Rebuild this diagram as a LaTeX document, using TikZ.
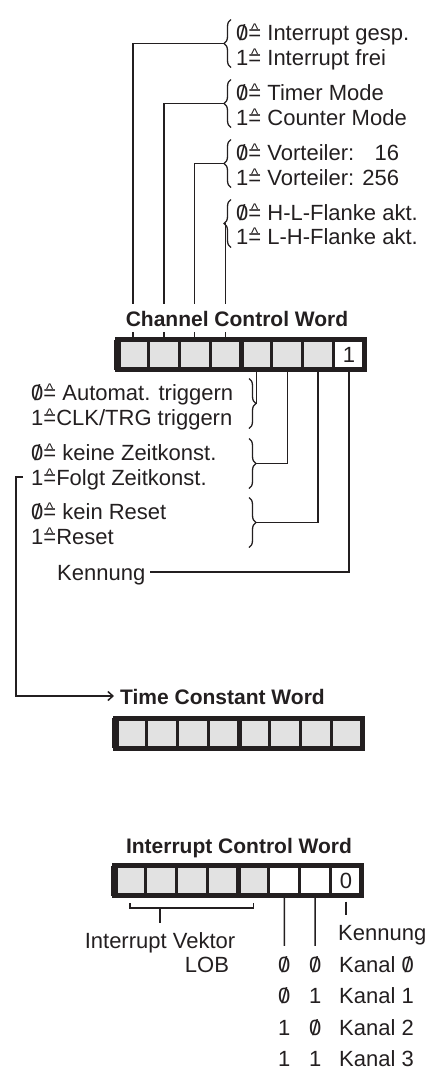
\documentclass[tikz,border=0pt]{standalone}
\usepackage{fontspec}
\setmainfont{Liberation Sans}
\usepackage{graphicx}
\usepackage{xcolor}
\usetikzlibrary{arrows.meta,calc,decorations.pathreplacing}
\definecolor{ink}{HTML}{231F20}
\definecolor{cellgray}{HTML}{E2E2E2}
\newcommand{\nul}{\ooalign{0\cr\hidewidth/\hidewidth\cr}}
\newcommand{\entspr}{\ooalign{=\cr\hidewidth\raisebox{.25em}{\scalebox{.7}{\textasciicircum}}\hidewidth\cr}}
\tikzset{
  txt/.style={font=\fontsize{22}{26}\selectfont, text=ink, inner sep=0pt, text height=16pt, text depth=0pt},
  ttl/.style={txt, font=\fontsize{21}{25}\selectfont\bfseries},
  wire/.style={draw=ink, line width=1.5pt},
  brc/.style={draw=ink, line width=1.3pt, decorate, decoration={brace, amplitude=7pt}},
  cell/.style={txt, draw=ink, line width=3pt, fill=cellgray, minimum width=30.875pt, minimum height=30pt, outer sep=0pt},
  frame/.style={draw=ink, line width=5pt},
}

\begin{document}
\begin{tikzpicture}[x=1pt, y=-1pt]
\useasboundingbox (0,0) rectangle (428,1069);

% Channel Control Word
\foreach \i in {1,...,7} \node[cell] (c\i) at ({117.5+30.875*(\i-0.5)},354.5) {};
\node[cell, fill=white] (c8) at ({117.5+30.875*7.5},354.5) {1};
\draw[frame] (c1.north west) rectangle (c8.south east);
\draw[frame] (c4.north east) -- (c4.south east);
\draw[frame, line width=7pt] (c1.north west) -- (c1.south west);

% upper bits
\node[txt, anchor=west] (igs) at (236,32) {\nul\entspr\ Interrupt gesp.};
\node[txt, anchor=west] (ifr) at (236,57) {1\entspr\ Interrupt frei};
\node[txt, anchor=west] (tmo) at (236,92) {\nul\entspr\ Timer Mode};
\node[txt, anchor=west] (cmo) at (236,117) {1\entspr\ Counter Mode};
\node[txt, anchor=west] (v16) at (236,152) {\nul\entspr\ Vorteiler: \hphantom{2}16};
\node[txt, anchor=west] (v256) at (236,177) {1\entspr\ Vorteiler: 256};
\node[txt, anchor=west] (hlf) at (236,212) {\nul\entspr\ H-L-Flanke akt.};
\node[txt, anchor=west] (lhf) at (236,236) {1\entspr\ L-H-Flanke akt.};
\foreach \k in {1,...,4} {
  \draw[brc] (231,{67.5+60*(\k-1)}) -- (231,{19.5+60*(\k-1)});
  \coordinate (b\k) at (224,{43.5+60*(\k-1)});
  \draw[wire] (c\k.north) |- (b\k);
}
\node[ttl, fill=white, inner xsep=2pt, inner ysep=6pt] (ccw) at (237,318) {Channel Control Word};

% lower bits
\node[txt, anchor=west] (aut) at (31,392) {\nul\entspr\ Automat. triggern};
\node[txt, anchor=west] (clk) at (31,417) {1\entspr CLK/TRG triggern};
\node[txt, anchor=west] (kzk) at (31,452) {\nul\entspr\ keine Zeitkonst.};
\node[txt, anchor=west] (fzk) at (31,477) {1\entspr Folgt Zeitkonst.};
\node[txt, anchor=west] (kre) at (31,511) {\nul\entspr\ kein Reset};
\node[txt, anchor=west] (res) at (31,536) {1\entspr Reset};
\node[txt, anchor=west] (ken) at (57,572) {Kennung};
\foreach \m/\n/\y in {5/a/403.5, 6/b/463.5, 7/c/522.5} {
  \draw[brc] (249,{\y-25}) -- (249,{\y+25});
  \coordinate (b\n) at (256,\y);
  \draw[wire] (c\m.south) |- (b\n);
}
\draw[wire] (c8.south) |- ([xshift=5pt]ken.east);

% Time Constant Word
\node[ttl, anchor=west] (tcw) at (120,696) {Time Constant Word};
\foreach \i in {1,...,8} \node[cell] (t\i) at ({115.5+30.875*(\i-0.5)},733) {};
\draw[frame] (t1.north west) rectangle (t8.south east);
\draw[frame] (t4.north east) -- (t4.south east);
\draw[frame, line width=7pt] (t1.north west) -- (t1.south west);
\draw[wire, -{Straight Barb[length=5pt,width=9pt]}, shorten >=6pt] ([xshift=-8pt]fzk.west) -- ++(-7,0) |- (tcw.west);

% Interrupt Control Word
\node[ttl] (icw) at (239,845) {Interrupt Control Word};
\foreach \i in {1,...,5} \node[cell] (r\i) at ({114.5+30.875*(\i-0.5)},880.5) {};
\foreach \i in {6,7} \node[cell, fill=white] (r\i) at ({114.5+30.875*(\i-0.5)},880.5) {};
\node[cell, fill=white] (r8) at ({114.5+30.875*7.5},880.5) {0};
\draw[frame] (r1.north west) rectangle (r8.south east);
\draw[frame] (r4.north east) -- (r4.south east);
\draw[frame, line width=7pt] (r1.north west) -- (r1.south west);

\coordinate (vt) at (0,903);
\coordinate (vb) at (160,908);
\draw[wire] (r1.south |- vt) -- (r1.south |- vb) -- (r5.south |- vb) -- (r5.south |- vt);
\node[txt] (vek) at (160,940) {Interrupt Vektor};
\node[txt] (lob) at (207,964) {LOB};
\draw[wire, shorten >=9pt] (vb) -- (vek.north);

\node[txt, anchor=west] (ke2) at (338,932) {Kennung};
\draw[wire, shorten <=6pt, shorten >=9pt] (r8.south) -- (r8.south |- ke2.north);

\foreach \y/\a/\b/\nr [count=\j] in {964/\nul/\nul/\nul, 995/\nul/1/1, 1027/1/\nul/2, 1058/1/1/3} {
  \node[txt] (qa\j) at (284.3,\y) {\a};
  \node[txt] (qb\j) at (315.2,\y) {\b};
  \node[txt, anchor=west] (kn\j) at (339,\y) {Kanal \nr};
}
\draw[wire, shorten >=10pt] (r6.south) -- (qa1.north);
\draw[wire, shorten >=10pt] (r7.south) -- (qb1.north);
\end{tikzpicture}
\end{document}
